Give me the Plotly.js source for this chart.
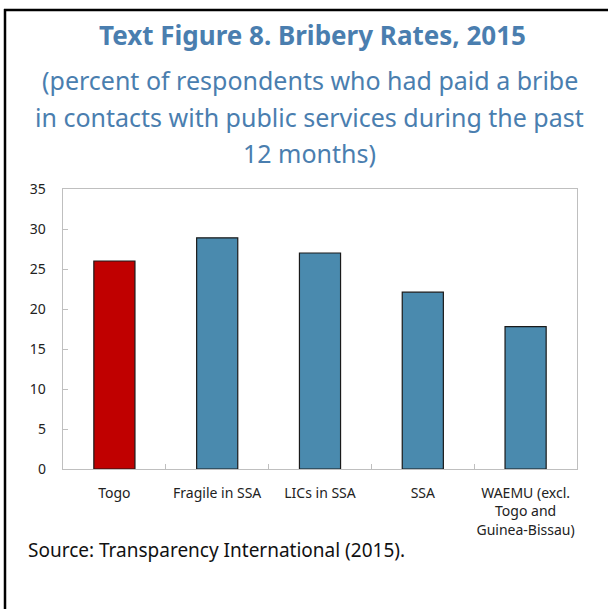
<!DOCTYPE html>
<html>
<head>
<meta charset="utf-8">
<script src="https://cdn.plot.ly/plotly-3.0.1.min.js"></script>
<style>html,body{margin:0;padding:0;background:#fff;}#chart{width:608px;height:609px;}</style>
</head>
<body>
<div id="chart"></div>
<script>
const categories = ["Togo", "Fragile in SSA", "LICs in SSA", "SSA", "WAEMU (excl.<br>Togo and<br>Guinea-Bissau)"];
const values = [26.0, 28.9, 27.0, 22.1, 17.8];
const barColors = ["#C00000", "#4A8AAE", "#4A8AAE", "#4A8AAE", "#4A8AAE"];
const titleText = "Text Figure 8. Bribery Rates, 2015";
const subtitleLines = ["(percent of respondents who had paid a bribe", "in contacts with public services during the past", "12 months)"];
const sourceText = "Source: Transparency International (2015).";

const FONT = "Noto Sans, Open Sans, sans-serif";
const blue = "#4A7EAF";

const trace = {
  type: "bar",
  x: categories,
  y: values,
  width: 0.4,
  marker: {color: barColors, line: {color: "#1a1a1a", width: 1.2}},
  hoverinfo: "skip"
};

// paper-coord helpers: plot area from y=189 (top) to 469 (bottom), x 63..577
const H = 280, W = 514;
const py = (pix) => (469 - pix) / H;
const px = (pix) => (pix - 63) / W;

const annotations = [
  {text: "<b>" + titleText + "</b>", x: px(312), y: py(35), xref: "paper", yref: "paper", xanchor: "center", yanchor: "middle", showarrow: false, font: {family: FONT, size: 26, color: blue}},
  {text: subtitleLines[0], x: px(310), y: py(80), xref: "paper", yref: "paper", xanchor: "center", yanchor: "middle", showarrow: false, font: {family: FONT, size: 25, color: blue}},
  {text: subtitleLines[1], x: px(309), y: py(117), xref: "paper", yref: "paper", xanchor: "center", yanchor: "middle", showarrow: false, font: {family: FONT, size: 25, color: blue}},
  {text: subtitleLines[2], x: px(309), y: py(153), xref: "paper", yref: "paper", xanchor: "center", yanchor: "middle", showarrow: false, font: {family: FONT, size: 25, color: blue}},
  {text: sourceText, x: px(26), y: py(550), xref: "paper", yref: "paper", xanchor: "left", yanchor: "middle", showarrow: false, font: {family: FONT, size: 19, color: "#111"}}
];

const shapes = [
  {type: "line", xref: "paper", yref: "paper", x0: px(5), x1: px(5), y0: py(9), y1: py(612), line: {color: "#000", width: 2.5}},
  {type: "line", xref: "paper", yref: "paper", x0: px(4), x1: px(612), y0: py(10), y1: py(10), line: {color: "#000", width: 2.5}}
];

const layout = {
  width: 608, height: 609,
  margin: {l: 63, r: 31, t: 189, b: 140, pad: 0},
  paper_bgcolor: "#fff", plot_bgcolor: "#fff",
  showlegend: false,
  font: {family: FONT, size: 14, color: "#222"},
  xaxis: {
    type: "category",
    showline: true, linecolor: "#BFBFBF", linewidth: 1.3, mirror: true,
    ticks: "inside", tickson: "boundaries", ticklen: 5, tickcolor: "#BFBFBF",
    showgrid: false, zeroline: false, tickangle: 0, automargin: false,
    tickfont: {family: FONT, size: 14, color: "#222"},
    ticklabelstandoff: 11
  },
  yaxis: {
    range: [0, 35], dtick: 5, tick0: 0,
    showline: true, linecolor: "#BFBFBF", linewidth: 1.3, mirror: true,
    ticks: "inside", ticklen: 5, tickcolor: "#BFBFBF",
    showgrid: false, zeroline: false, automargin: false,
    tickfont: {family: FONT, size: 14, color: "#222"},
    ticklabelstandoff: 13
  },
  annotations: annotations,
  shapes: shapes
};

Plotly.newPlot("chart", [trace], layout, {displayModeBar: false, staticPlot: true});
</script>
</body>
</html>
